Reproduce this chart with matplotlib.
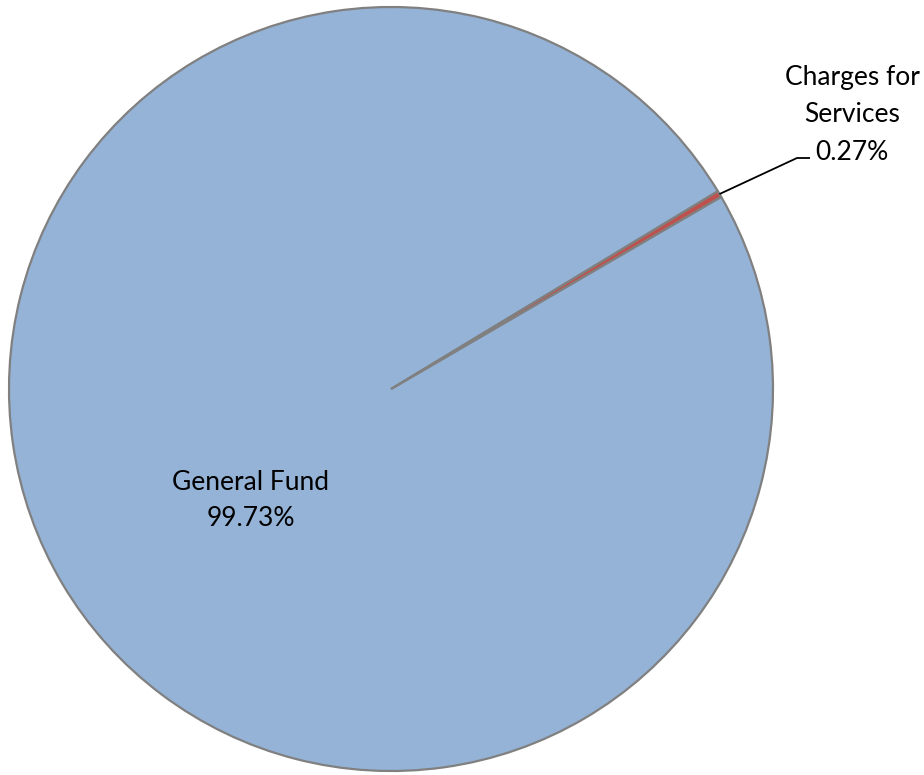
"""Pie chart of funding sources: general fund versus charges for services."""

import matplotlib
matplotlib.use("Agg")
import matplotlib.pyplot as plt
import numpy as np

# Funding shares (percent)
sources = ["General Fund", "Charges for\nServices"]
shares = [99.73, 0.27]
colors = ["#95B3D7", "#C0504D"]

W, H = 924, 775
fig = plt.figure(figsize=(W / 100, H / 100), dpi=100)
ax = fig.add_axes([0, 0, 1, 1])

center = (391, H - 389)
radius = 382
start = 30.2

wedges, _ = ax.pie(
    shares,
    colors=colors,
    center=center,
    radius=radius,
    startangle=start,
    counterclock=False,
    wedgeprops=dict(edgecolor="#808080", linewidth=1.6),
    frame=True,
)
ax.set_xlim(0, W)
ax.set_ylim(0, H)
ax.set_aspect("equal")
ax.axis("off")

tsz = 19
font = "Lato"

# Big slice label sits inside the pie
ax.text(251, H - 500, f"{sources[0]}\n{shares[0]:.2f}%", ha="center", va="center",
        fontsize=tsz, family=font, linespacing=1.55)

# Small slice gets an outside label with a leader line
small = wedges[1]
mid = np.deg2rad((small.theta1 + small.theta2) / 2)
edge = (center[0] + radius * np.cos(mid), center[1] + radius * np.sin(mid))
elbow = (797, H - 158)
ax.plot([edge[0], elbow[0], elbow[0] + 13], [edge[1], elbow[1], elbow[1]],
        color="black", lw=1.3, solid_capstyle="butt")
ax.text(852, H - 115, f"{sources[1]}\n{shares[1]:.2f}%", ha="center", va="center",
        fontsize=tsz, family=font, linespacing=1.6)

fig.savefig("out.png", dpi=100)
